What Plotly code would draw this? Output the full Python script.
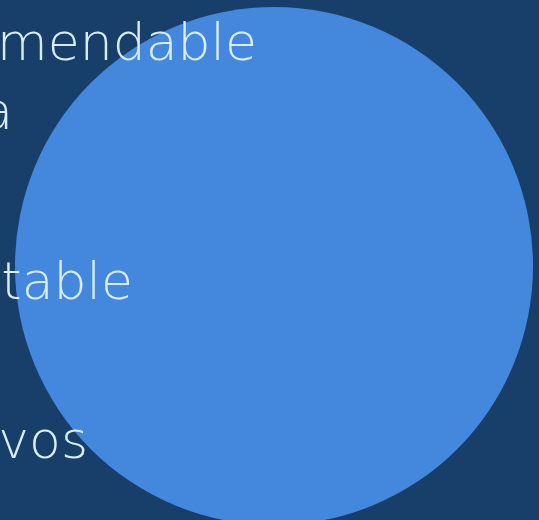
import plotly.graph_objects as go

# Data
labels = ["Recomendable", "Buena", "Aceptable", "Positivos"]
label_end_x = [257, 13, 133, 88]
label_y = [47, 116, 286, 445]
bubble_x = [274]
bubble_y = [266]
bubble_value = [518]

BG = "#183f6a"
BUBBLE = "#4488dd"
TEXT = "#d8edf9"

fig = go.Figure()
fig.add_trace(go.Scatter(
    x=bubble_x, y=bubble_y, mode="markers",
    marker=dict(size=bubble_value, sizemode="diameter", color=BUBBLE, line=dict(width=0), opacity=1),
    hoverinfo="skip", showlegend=False,
))
fig.add_trace(go.Scatter(
    x=label_end_x, y=label_y, mode="text", text=labels,
    textposition="middle left",
    textfont=dict(family="DejaVu Sans", size=52, color=TEXT, weight=200),
    hoverinfo="skip", showlegend=False, cliponaxis=False,
))
fig.update_layout(
    width=539, height=520,
    margin=dict(l=0, r=0, t=0, b=0),
    paper_bgcolor=BG, plot_bgcolor=BG,
    xaxis=dict(range=[0, 539], visible=False, fixedrange=True),
    yaxis=dict(range=[520, 0], visible=False, fixedrange=True),
)
fig.write_html("out.html", config={"displayModeBar": False},
               post_script="document.body.style.margin='0';document.body.style.background='" + BG + "';")
